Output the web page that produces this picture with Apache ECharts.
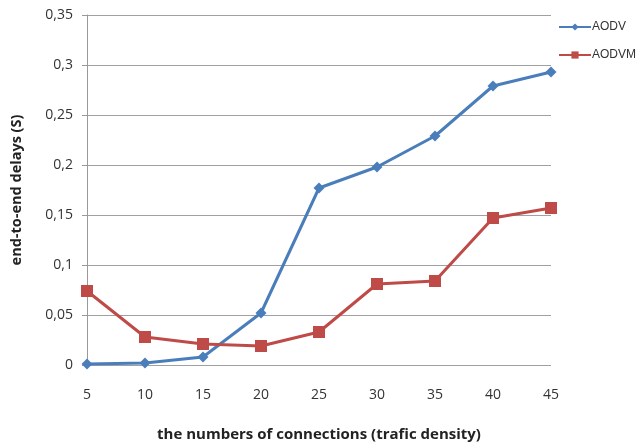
<!DOCTYPE html>
<html><head><meta charset="utf-8">
<script src="https://cdn.jsdelivr.net/npm/echarts@6/dist/echarts.min.js"></script>
<style>html,body{margin:0;padding:0;background:#fff}#c{width:643px;height:442px}</style>
</head><body><div id="c"></div>
<script>
const categories = ['5','10','15','20','25','30','35','40','45'];
const aodv  = [0.001, 0.002, 0.008, 0.052, 0.177, 0.198, 0.229, 0.279, 0.293];
const aodvm = [0.074, 0.028, 0.021, 0.019, 0.033, 0.081, 0.084, 0.147, 0.157];
const yTicks = [0, 0.05, 0.1, 0.15, 0.2, 0.25, 0.3, 0.35];

const chart = echarts.init(document.getElementById('c'));
const font = '"Open Sans", "Liberation Sans", sans-serif';
chart.setOption({
  animation: false,
  backgroundColor: '#fff',
  grid: {left: 87, top: 15, right: 92, bottom: 77, containLabel: false, outerBoundsMode: 'none'},
  legend: {
    orient: 'vertical', left: 553, top: 16, itemGap: 16, itemWidth: 32, itemHeight: 9,
    textStyle: {fontFamily: '"Liberation Sans", Arial, sans-serif', fontSize: 12, color: '#333', padding: [0,0,0,-4]},
    data: ['AODV', 'AODVM']
  },
  xAxis: {
    type: 'category', data: categories, boundaryGap: false,
    name: 'the numbers of connections (trafic density)', nameLocation: 'middle', nameGap: 62,
    nameTextStyle: {fontFamily: font, fontWeight: 'bold', fontSize: 15, color: '#222'},
    axisLine: {show: false}, axisTick: {show: false},
    axisLabel: {fontFamily: font, fontSize: 14, color: '#333', margin: 23},
    splitLine: {show: false}
  },
  yAxis: {
    type: 'value', min: 0, max: yTicks[yTicks.length-1], interval: yTicks[1]-yTicks[0],
    name: 'end-to-end delays (S)', nameLocation: 'middle', nameGap: 63, nameRotate: 90,
    nameTextStyle: {fontFamily: font, fontWeight: 'bold', fontSize: 14.5, color: '#222'},
    axisLine: {show: true, lineStyle: {color: '#999', width: 1}},
    axisTick: {show: true, length: 5, lineStyle: {color: '#999'}},
    axisLabel: {fontFamily: font, fontSize: 14, color: '#333', margin: 14,
      formatter: v => String(Math.round(v*100)/100).replace('.', ',')},
    splitLine: {show: true, lineStyle: {color: '#a0a0a0', width: 1}}
  },
  series: [
    {name: 'AODV', type: 'line', data: aodv, symbol: 'diamond', symbolSize: 11,
     color: '#4a7ebb', lineStyle: {width: 3, color: '#4a7ebb'}, itemStyle: {color: '#4a7ebb'}},
    {name: 'AODVM', type: 'line', data: aodvm, symbol: 'rect', symbolSize: 12,
     color: '#be4b48', lineStyle: {width: 3, color: '#be4b48'}, itemStyle: {color: '#be4b48'}}
  ]
});
</script></body></html>
